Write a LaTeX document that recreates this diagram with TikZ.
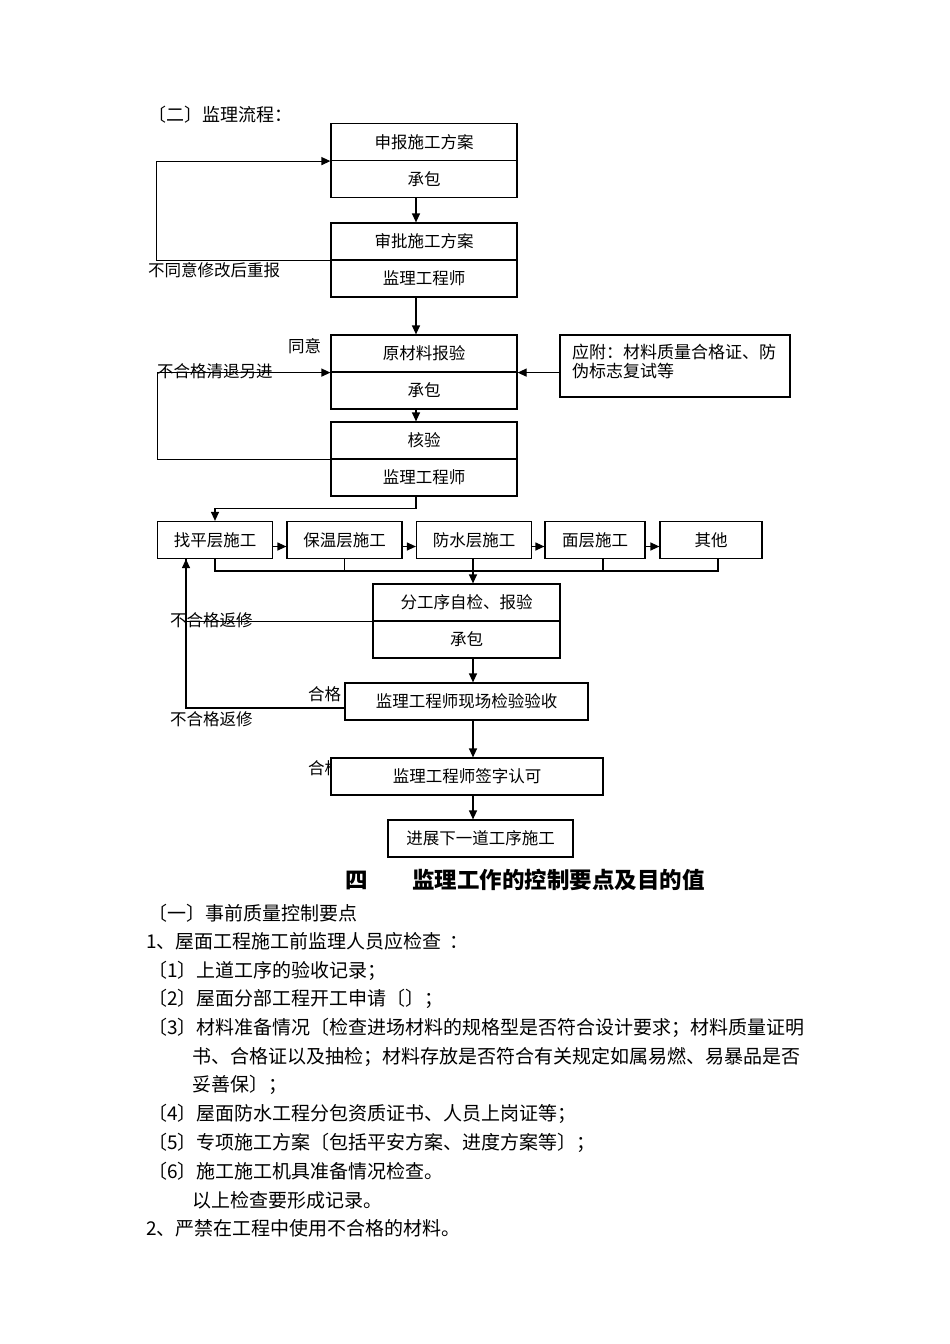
\documentclass[tikz,border=0pt]{standalone}
\usepackage{fontspec}
\setmainfont{Noto Sans CJK SC}
\usetikzlibrary{arrows.meta,calc}
\begin{document}
\begin{tikzpicture}[x=1pt,y=-1pt,
  bx/.style={draw,line width=1.2pt,inner sep=0pt,minimum height=37pt,fill=white,font=\fontsize{16.5}{16.5}\selectfont},
  lbl/.style={inner sep=0pt,anchor=west,font=\fontsize{16.5}{16.5}\selectfont},
  txt/.style={inner sep=0pt,anchor=west,font=\fontsize{19}{19}\selectfont},
  ln/.style={line width=1.2pt},
  arr/.style={line width=1.2pt,-{Triangle[length=9pt,width=8pt]}}]
\useasboundingbox[fill=white] (0,0) rectangle (950,1344);

% title
\node[lbl,font=\fontsize{18}{18}\selectfont] (title) at (148,115) {〔二〕监理流程：};

% upper split boxes
\node[bx,minimum width=186pt] (b1a) at (424,142) {申报施工方案};
\node[bx,minimum width=186pt] (b1b) at (424,179) {承包};
\node[bx,minimum width=186pt] (b2a) at (424,241.5) {审批施工方案};
\node[bx,minimum width=186pt] (b2b) at (424,278.5) {监理工程师};
\node[bx,minimum width=186pt] (b3a) at (424,353.5) {原材料报验};
\node[bx,minimum width=186pt] (b3b) at (424,390.5) {承包};
\node[bx,minimum width=186pt] (b4a) at (424,440.5) {核验};
\node[bx,minimum width=186pt] (b4b) at (424,477.5) {监理工程师};

% side box
\node[bx,minimum width=230pt,minimum height=62pt] (s) at (675,366) {};
\node[lbl,anchor=north west,align=left,font=\fontsize{17}{19}\selectfont] (st) at (572,344) {应附：材料质量合格证、防\\伪标志复试等};

% labels
\node[lbl] (l1) at (148,270) {不同意修改后重报};
\node[lbl] (l2) at (288,346) {同意};

% connectors upper
\draw[arr] ([xshift=-8pt]b1b.south) -- ([xshift=-8pt]b2a.north);
\draw[arr] (b2a.south west) -- ++(-174,0) |- (b1a.south west);
\draw[arr] ([xshift=-8pt]b2b.south) -- ([xshift=-8pt]b3a.north);
\draw[arr] (s.west |- b3a.south east) -- (b3a.south east);
\draw[arr] (b4a.south west) -- ++(-173,0) |- (b3a.south west);
\node[lbl] (l3) at (157,371) {不合格清退另进};
\draw[arr] ([xshift=-8pt]b3b.south) -- ([xshift=-8pt]b4a.north);

% process row
\node[bx,minimum width=115pt] (p1) at (215,540) {找平层施工};
\node[bx,minimum width=115pt] (p2) at (344.5,540) {保温层施工};
\node[bx,minimum width=115pt] (p3) at (474,540) {防水层施工};
\node[bx,minimum width=100pt] (p4) at (595,540) {面层施工};
\node[bx,minimum width=102pt] (p5) at (711,540) {其他};

\draw[arr] ([xshift=-8pt]b4b.south) -- ++(0,12) -| (p1.north);
\draw[arr] ([yshift=-6.5pt]p1.east) -- ([yshift=-6.5pt]p2.west);
\draw[arr] ([yshift=-6.5pt]p2.east) -- ([yshift=-6.5pt]p3.west);
\draw[arr] ([yshift=-6.5pt]p3.east) -- ([yshift=-6.5pt]p4.west);
\draw[arr] ([yshift=-6.5pt]p4.east) -- ([yshift=-6.5pt]p5.west);

\coordinate (bus) at (0,571);
\draw[ln] (p1.south) |- ([xshift=7pt]p5.south |- bus) -- ([xshift=7pt]p5.south);
\draw[ln] (p2.south) -- (p2.south |- bus);
\draw[ln] ([xshift=8pt]p4.south) -- ([xshift=8pt]p4.south |- bus);

% lower boxes
\node[bx,minimum width=187pt] (b5a) at (466.5,602.5) {分工序自检、报验};
\node[bx,minimum width=187pt] (b5b) at (466.5,639.5) {承包};
\draw[arr] ([xshift=-1pt]p3.south) -- ([xshift=-1pt]p3.south |- b5a.north);

\node[lbl] (l4) at (170,620) {不合格返修};
\node[lbl] (l5) at (308,694) {合格};
\node[lbl] (l6) at (170,719) {不合格返修};
\node[lbl] (l7) at (308,768) {合格};

\node[bx,minimum width=243pt] (b6) at (466.5,701.5) {监理工程师现场检验验收};
\node[bx,minimum width=272pt] (b7) at (467,776.5) {监理工程师签字认可};
\node[bx,minimum width=185pt] (b8) at (480.5,838.5) {进展下一道工序施工};

\coordinate (ax) at (473,0);
\draw[arr] (b5a.south west) -| ([xshift=-29pt]p1.south);
\draw[ln] ([yshift=-6.5pt]b6.west) -| ([xshift=-29pt]p1.south);
\draw[arr] (b5b.south -| ax) -- (b6.north -| ax);
\draw[arr] (b6.south -| ax) -- (b7.north -| ax);
\draw[arr] (b7.south -| ax) -- (b8.north -| ax);

% heading
\node[inner sep=0pt,font=\fontsize{22.5}{22.5}\selectfont\bfseries] (h1) at (357,880) {四};
\node[inner sep=0pt,anchor=west,font=\fontsize{22.5}{22.5}\selectfont\bfseries] (h2) at (412,880) {监理工作的控制要点及目的值};

% body text
\node[txt] (t1) at (148,913) {〔一〕事前质量控制要点};
\node[txt] (t2) at (146,941.7) {1、屋面工程施工前监理人员应检查\hspace{0.4em}：};
\node[txt] (t3) at (148,970.4) {〔1〕上道工序的验收记录；};
\node[txt] (t4) at (148,999.1) {〔2〕屋面分部工程开工申请〔〕；};
\node[txt] (t5) at (148,1027.8) {〔3〕材料准备情况〔检查进场材料的规格型是否符合设计要求；材料质量证明};
\node[txt] (t6) at (192,1056.5) {书、合格证以及抽检；材料存放是否符合有关规定如属易燃、易暴品是否};
\node[txt] (t7) at (192,1085.2) {妥善保〕；};
\node[txt] (t8) at (148,1113.9) {〔4〕屋面防水工程分包资质证书、人员上岗证等；};
\node[txt] (t9) at (148,1142.6) {〔5〕专项施工方案〔包括平安方案、进度方案等〕；};
\node[txt] (t10) at (148,1171.3) {〔6〕施工施工机具准备情况检查。};
\node[txt] (t11) at (192,1200) {以上检查要形成记录。};
\node[txt] (t12) at (146,1228.7) {2、严禁在工程中使用不合格的材料。};
\end{tikzpicture}
\end{document}
